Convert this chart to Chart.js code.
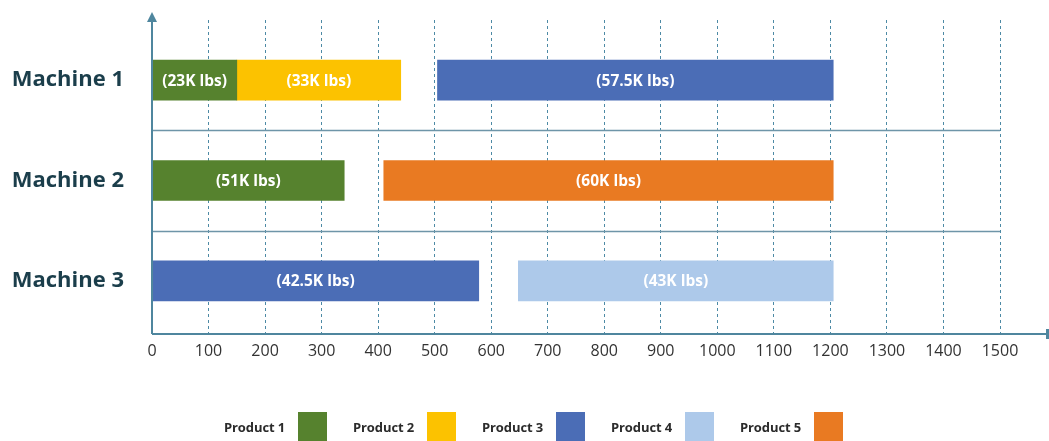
<!DOCTYPE html>
<html>
<head>
<meta charset="utf-8">
<script src="https://cdn.jsdelivr.net/npm/chart.js@4"></script>
<style>
  html, body { margin: 0; padding: 0; background: #fff; }
  #wrap { position: relative; width: 1049px; height: 441px; overflow: hidden; }
  #c { position: absolute; left: 0; top: 0; }
  #legend { position: absolute; left: 224px; top: 412px; display: flex; font-family: "Open Sans", Lato, sans-serif; }
  .item { width: 129px; display: flex; align-items: center; }
  .item span { width: 74px; font-size: 13px; font-weight: bold; color: #2b2b2b; letter-spacing: -0.1px; }
  .item i { display: inline-block; width: 29px; height: 29px; }
</style>
</head>
<body>
<div id="wrap">
  <canvas id="c" width="1049" height="441"></canvas>
  <div id="legend"></div>
</div>
<script>
const machines = ['Machine 1', 'Machine 2', 'Machine 3'];
const products = ['Product 1', 'Product 2', 'Product 3', 'Product 4', 'Product 5'];
const colors = ['#56822e', '#fcc200', '#4b6db6', '#adc9ea', '#e97a22'];
const xTicks = [0, 100, 200, 300, 400, 500, 600, 700, 800, 900, 1000, 1100, 1200, 1300, 1400, 1500];

// ranges per machine (null = not made on that machine)
const product1 = [[0, 150], [0, 340], null];
const product2 = [[150, 440], null, null];
const product3 = [[505, 1205], null, [0, 578]];
const product4 = [null, null, [648, 1205]];
const product5 = [null, [410, 1205], null];

const label1 = ['(23K lbs)', '(51K lbs)', null];
const label2 = ['(33K lbs)', null, null];
const label3 = ['(57.5K lbs)', null, '(42.5K lbs)'];
const label4 = [null, null, '(43K lbs)'];
const label5 = [null, '(60K lbs)', null];

const ranges = [product1, product2, product3, product4, product5];
const labels = [label1, label2, label3, label4, label5];

const FONT = '"Open Sans", Lato, sans-serif';
const AXIS = '#4f869e';

const datasets = products.map((p, k) => ({
  label: p,
  backgroundColor: colors[k],
  data: ranges[k].map((r, i) => r ? { x: r, y: i + 1, txt: labels[k][i] } : null).filter(Boolean),
  barThickness: 40,
  grouped: false,
  borderSkipped: false
}));

const barLabels = {
  id: 'barLabels',
  afterDatasetsDraw(chart) {
    const ctx = chart.ctx;
    ctx.save();
    ctx.font = 'bold 15.5px ' + FONT;
    ctx.fillStyle = '#ffffff';
    ctx.textAlign = 'center';
    ctx.textBaseline = 'middle';
    chart.data.datasets.forEach((ds, k) => {
      const meta = chart.getDatasetMeta(k);
      meta.data.forEach((el, j) => {
        const t = ds.data[j].txt;
        if (t) ctx.fillText(t, (el.x + el.base) / 2, el.y + 1);
      });
    });
    ctx.restore();
  }
};

const axesDeco = {
  id: 'axesDeco',
  beforeDatasetsDraw(chart) {
    const ctx = chart.ctx;
    const { left, right } = chart.chartArea;
    const y = chart.scales.y;
    ctx.save();
    ctx.strokeStyle = '#6e95a8';
    ctx.lineWidth = 1.5;
    [1.5, 2.5].forEach(v => {
      const py = Math.round(y.getPixelForValue(v)) + 0.5;
      ctx.beginPath();
      ctx.moveTo(left, py);
      ctx.lineTo(right, py);
      ctx.stroke();
    });
    ctx.restore();
  },
  afterDatasetsDraw(chart) {
    const ctx = chart.ctx;
    const { left, top, bottom } = chart.chartArea;
    const W = chart.width;
    ctx.save();
    ctx.strokeStyle = AXIS;
    ctx.fillStyle = AXIS;
    ctx.lineWidth = 2;
    ctx.beginPath();
    ctx.moveTo(left, bottom);
    ctx.lineTo(left, top);
    ctx.moveTo(left, bottom);
    ctx.lineTo(W - 2, bottom);
    ctx.stroke();
    // top arrow head
    ctx.beginPath();
    ctx.moveTo(left, top - 8);
    ctx.lineTo(left - 5, top + 2);
    ctx.lineTo(left + 5, top + 2);
    ctx.closePath();
    ctx.fill();
    // right end cap
    ctx.fillRect(W - 3, bottom - 5, 3, 10);
    ctx.restore();
  }
};

new Chart(document.getElementById('c'), {
  type: 'bar',
  data: { datasets },
  plugins: [barLabels, axesDeco],
  options: {
    indexAxis: 'y',
    responsive: false,
    animation: false,
    layout: { padding: { left: 0, right: 49, top: 20, bottom: 0 } },
    plugins: { legend: { display: false }, tooltip: { enabled: false } },
    scales: {
      x: {
        type: 'linear',
        min: xTicks[0],
        max: xTicks[xTicks.length - 1],
        afterBuildTicks: s => { s.ticks = xTicks.map(v => ({ value: v })); },
        afterFit: s => { s.height = 107; s.paddingLeft = 0; s.paddingRight = 0; },
        grid: { color: '#4d8aa5', lineWidth: 1, drawTicks: false },
        border: { display: false, dash: [3, 3] },
        ticks: {
          color: '#333', font: { family: FONT, size: 16 }, padding: 8, autoSkip: false, maxRotation: 0,
          callback: v => String(v)
        }
      },
      y: {
        type: 'linear',
        reverse: true,
        offset: false,
        bounds: 'data',
        min: 0.4,
        max: 3.53,
        afterBuildTicks: s => { s.ticks = machines.map((m, i) => ({ value: i + 1 })); },
        afterFit: s => { s.width = 152; s.paddingTop = 0; s.paddingBottom = 0; },
        grid: { display: false, drawTicks: false },
        border: { display: false },
        ticks: {
          color: '#1b3e4b',
          font: { family: FONT, size: 22, weight: 'bold' },
          padding: 28,
          autoSkip: false,
          callback: v => machines[Math.round(v) - 1] || ''
        }
      }
    }
  }
});

const lg = document.getElementById('legend');
products.forEach((p, k) => {
  const d = document.createElement('div');
  d.className = 'item';
  const s = document.createElement('span');
  s.textContent = p;
  const b = document.createElement('i');
  b.style.background = colors[k];
  d.appendChild(s);
  d.appendChild(b);
  lg.appendChild(d);
});
</script>
</body>
</html>
